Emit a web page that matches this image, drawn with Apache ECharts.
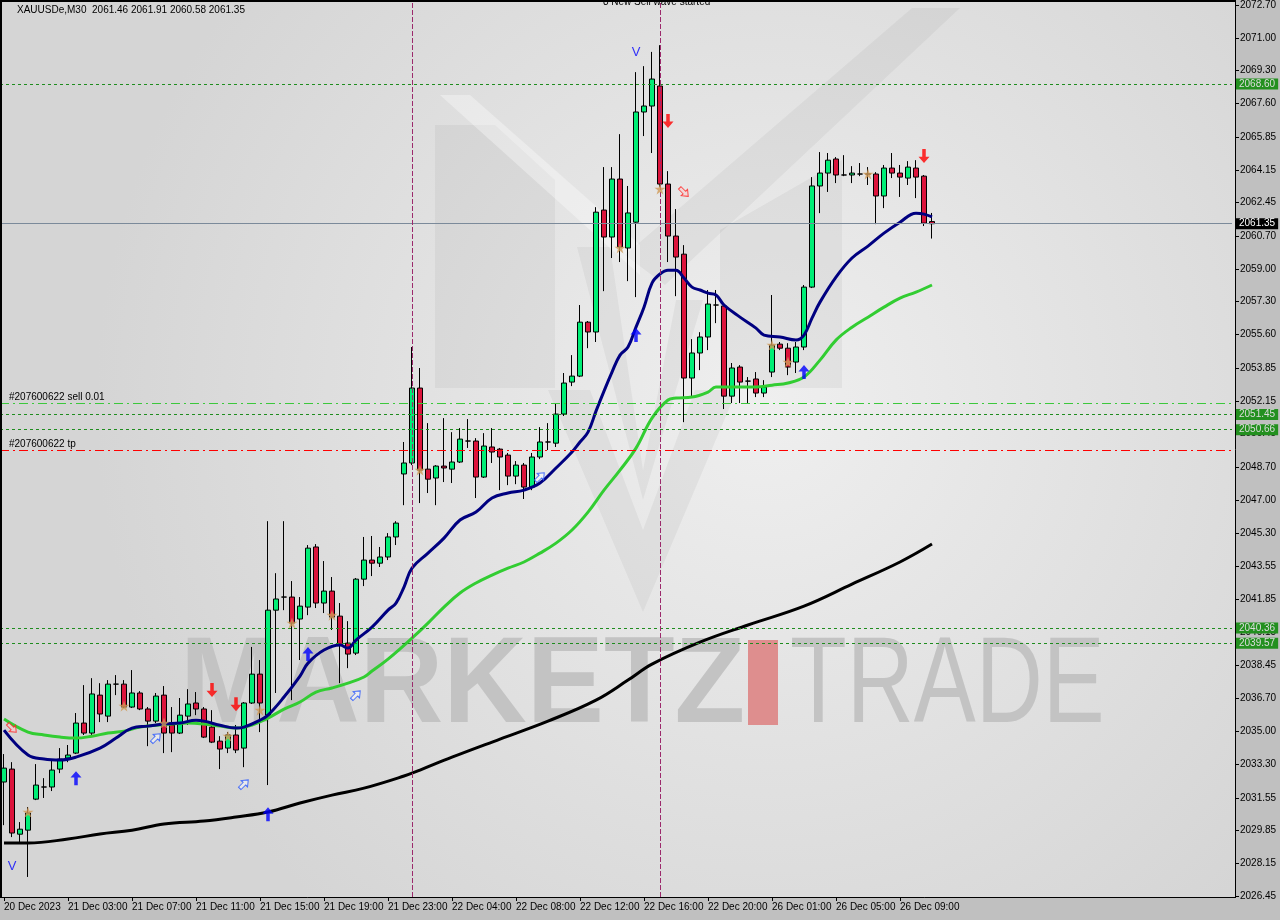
<!DOCTYPE html>
<html><head><meta charset="utf-8">
<script src="https://cdn.jsdelivr.net/npm/echarts@6/dist/echarts.min.js"></script>
<style>html,body{margin:0;padding:0;background:#c0c0c0;}#c{width:1280px;height:920px;}</style>
</head><body><div id="c"></div>
<script>
// ---------- data ----------
const tickLabels = ['20 Dec 2023','21 Dec 03:00','21 Dec 07:00','21 Dec 11:00','21 Dec 15:00','21 Dec 19:00','21 Dec 23:00','22 Dec 04:00','22 Dec 08:00','22 Dec 12:00','22 Dec 16:00','22 Dec 20:00','26 Dec 01:00','26 Dec 05:00','26 Dec 09:00'];
const yTicks = [2072.70,2071.00,2069.30,2067.60,2065.85,2064.15,2062.45,2060.70,2059.00,2057.30,2055.60,2053.85,2052.15,2050.45,2048.70,2047.00,2045.30,2043.55,2041.85,2040.15,2038.45,2036.70,2035.00,2033.30,2031.55,2029.85,2028.15,2026.45];

const opens = [2032.37,2033.04,2029.66,2029.87,2031.48,2032.11,2032.11,2033.04,2033.61,2033.87,
2035.43,2034.91,2036.88,2035.79,2037.45,2037.45,2036.26,2036.99,2036.16,2035.53,
2036.88,2035.33,2034.91,2035.79,2036.47,2036.16,2035.22,2034.49,2034.13,2034.81,
2034.13,2036.47,2037.97,2035.84,2041.29,2041.97,2041.97,2040.83,2041.45,2044.57,
2041.66,2042.28,2040.98,2039.58,2039.06,2042.90,2043.89,2043.73,2044.05,2045.09,
2048.36,2048.93,2052.82,2048.61,2048.15,2048.77,2048.61,2048.98,2050.07,2050.07,
2048.20,2049.76,2049.65,2049.34,2048.25,2048.82,2047.68,2049.24,2050.02,2049.96,
2051.47,2053.13,2053.44,2056.24,2055.73,2062.06,2060.66,2063.67,2060.09,2061.43,
2067.15,2067.46,2068.50,2063.41,2060.71,2059.77,2053.34,2054.64,2055.47,2057.13,
2057.08,2052.40,2053.91,2053.18,2053.29,2052.56,2053.65,2055.10,2054.89,2054.17,
2054.95,2058.06,2063.31,2063.98,2064.71,2063.88,2063.88,2063.93,2063.93,2063.93,
2062.79,2064.24,2063.98,2063.72,2064.24,2063.82,2061.46];
const closes = [2033.09,2029.72,2029.92,2030.76,2032.21,2032.11,2032.99,2033.56,2033.77,2035.43,
2034.91,2036.94,2035.90,2037.45,2037.45,2036.26,2036.99,2036.16,2035.53,2036.83,
2034.91,2034.91,2035.84,2036.42,2036.16,2034.70,2034.44,2034.08,2034.81,2034.03,
2036.47,2037.97,2036.47,2041.29,2041.87,2041.97,2040.62,2041.50,2044.51,2041.66,
2042.28,2040.93,2039.48,2039.01,2042.90,2043.89,2043.73,2044.05,2045.09,2045.81,
2048.93,2052.82,2048.56,2048.09,2048.77,2048.67,2048.98,2050.17,2050.07,2048.20,
2049.81,2049.50,2049.24,2048.25,2048.82,2047.68,2049.24,2050.02,2050.02,2051.47,
2053.08,2053.44,2056.24,2055.73,2061.95,2060.66,2063.67,2060.14,2061.91,2067.15,
2067.46,2068.86,2063.41,2060.71,2059.62,2053.34,2054.64,2055.47,2057.18,2057.13,
2052.40,2053.86,2053.13,2053.18,2052.56,2052.87,2055.05,2054.89,2053.91,2054.95,
2058.06,2063.31,2063.98,2064.65,2063.88,2063.88,2063.98,2063.93,2063.93,2062.79,
2064.24,2063.98,2063.77,2064.29,2063.77,2061.38,2061.35];
const lows = [2030.13,2029.51,2029.25,2027.44,2031.43,2031.54,2031.90,2032.83,2033.40,2033.82,
2034.81,2034.81,2035.48,2035.48,2036.88,2036.21,2036.21,2036.10,2034.23,2035.43,
2033.87,2033.92,2034.86,2035.33,2035.84,2034.65,2034.39,2033.04,2033.87,2033.87,
2033.14,2036.42,2034.96,2032.21,2036.99,2041.29,2036.62,2038.70,2041.03,2041.40,
2041.14,2040.26,2037.50,2038.28,2038.96,2042.54,2043.06,2043.53,2043.89,2044.67,
2046.74,2048.82,2046.85,2047.37,2046.74,2047.94,2047.89,2048.93,2049.71,2047.11,
2048.15,2048.93,2047.52,2047.78,2047.83,2047.06,2047.52,2049.13,2049.60,2049.76,
2051.37,2052.92,2053.39,2054.89,2055.21,2057.85,2059.57,2059.36,2058.37,2057.54,
2065.90,2065.02,2063.25,2059.36,2057.59,2051.05,2052.35,2053.75,2054.79,2056.19,
2051.73,2052.04,2052.04,2052.04,2052.35,2052.35,2053.39,2054.79,2053.49,2053.60,
2054.79,2058.01,2061.90,2063.00,2063.46,2063.82,2063.46,2063.82,2063.36,2061.33,
2062.16,2063.72,2062.74,2063.36,2062.68,2061.23,2060.58];
const highs = [2033.82,2033.40,2030.29,2031.07,2033.30,2032.57,2033.51,2034.13,2034.29,2035.95,
2037.40,2037.76,2037.50,2037.66,2037.92,2037.66,2038.18,2037.09,2036.26,2036.99,
2037.35,2036.26,2036.73,2037.19,2037.04,2036.26,2036.10,2034.75,2034.96,2035.33,
2036.52,2039.38,2038.70,2045.91,2043.21,2045.91,2042.80,2041.97,2044.67,2044.72,
2043.84,2043.01,2041.66,2040.72,2042.96,2045.09,2045.14,2044.57,2045.29,2045.91,
2050.02,2054.95,2053.86,2051.00,2048.82,2051.26,2050.53,2050.74,2051.21,2050.22,
2050.48,2050.74,2049.71,2049.45,2049.03,2048.93,2049.45,2050.79,2051.00,2052.04,
2053.60,2054.53,2057.13,2056.30,2062.21,2064.29,2064.29,2066.00,2063.31,2069.22,
2069.53,2070.27,2070.62,2064.08,2062.11,2060.24,2055.36,2055.72,2057.91,2057.91,
2057.18,2054.12,2054.01,2053.39,2053.65,2053.23,2057.65,2055.21,2055.15,2055.21,
2058.17,2063.77,2065.07,2065.02,2064.81,2064.91,2064.34,2064.50,2064.29,2064.03,
2064.40,2065.02,2064.40,2064.60,2064.65,2063.88,2061.91];

// moving averages (bar index, price)
const navyBars = [0,3,5,7,9,12,14,16,18,20,22,24,25,27,29,30,32,33,35,37,38,40,42,43,44,46,48,49,50,51,53,55,57,59,61,63,65,67,69,71,72,73,74,75,76,77,78,79,80,81,82,83,84,85,86,87,88,89,90,92,94,95,97,99,100,101,102,104,106,108,110,112,114,115,116];
const navyVals = [2035.06,2033.77,2033.56,2033.51,2033.66,2034.13,2034.65,2035.17,2035.27,2035.38,2035.43,2035.58,2035.53,2035.32,2035.17,2035.22,2035.58,2035.84,2036.78,2037.87,2038.54,2039.22,2039.48,2039.32,2039.74,2040.41,2041.29,2041.66,2042.49,2043.47,2044.25,2045.03,2045.97,2046.38,2047.11,2047.37,2047.52,2047.89,2048.67,2049.50,2050.02,2050.53,2051.62,2052.66,2053.65,2054.53,2054.95,2055.98,2057.02,2058.27,2058.74,2058.94,2058.94,2058.53,2058.06,2057.91,2057.75,2057.65,2057.13,2056.50,2055.93,2055.57,2055.47,2055.31,2055.57,2056.45,2057.28,2058.58,2059.57,2060.19,2060.86,2061.43,2061.90,2061.85,2061.70];
const greenBars = [0,3,5,7,9,11,13,15,17,19,21,23,25,27,29,31,33,35,37,39,41,43,45,46,48,51,53,55,57,59,61,63,65,67,69,71,73,75,77,79,81,83,84,86,88,89,92,94,96,98,100,102,104,106,108,110,112,114,116];
const greenVals = [2035.64,2034.96,2034.81,2034.70,2034.65,2034.75,2034.91,2035.01,2035.22,2035.32,2035.38,2035.43,2035.38,2035.27,2035.17,2035.32,2035.69,2036.15,2036.52,2037.04,2037.25,2037.50,2037.82,2038.13,2038.75,2039.84,2040.62,2041.45,2042.18,2042.70,2043.11,2043.47,2043.79,2044.25,2044.77,2045.45,2046.38,2047.52,2048.56,2049.70,2051.26,2052.20,2052.30,2052.35,2052.61,2052.87,2052.87,2052.87,2052.97,2053.08,2053.39,2054.27,2055.31,2055.98,2056.50,2057.02,2057.49,2057.80,2058.17];
const blackBars = [0,3,8,12,16,20,25,29,33,37,41,45,50,52,56,62,68,74,78,81,87,93,100,106,112,116];
const blackVals = [2029.20,2029.20,2029.41,2029.67,2029.87,2030.19,2030.34,2030.55,2030.81,2031.28,2031.69,2032.05,2032.68,2032.99,2033.66,2034.60,2035.53,2036.62,2037.66,2038.49,2039.63,2040.52,2041.50,2042.64,2043.79,2044.72];

// signal markers (bar index, price)
const blueUp = [[9,2032.57],[33,2030.70],[38,2039.01],[79,2055.57],[100,2053.65]];
const redDown = [[26,2037.14],[29,2036.41],[83,2066.68],[115,2064.86]];
const hollowBlue = [[19,2034.65],[30,2032.26],[44,2036.88],[67,2048.20]];
const hollowRed = [[1,2035.17],[85,2062.99]];
const stars = [[3,2030.81],[15,2036.31],[20,2035.43],[28,2034.75],[32,2036.10],[36,2040.62],[41,2041.03],[52,2048.56],[77,2060.09],[82,2063.15],[96,2055.05],[98,2054.17],[108,2063.93]];
const vMarks = [[1,2028.00],[79,2070.26]];

// horizontal levels
const boxLevels = [2068.60, 2051.45, 2050.66, 2040.36, 2039.57];
const bidLevel = 2061.35;
const sellLevel = 2052.04;
const tpLevel = 2049.60;
const vLineBars = [51, 82];

const headerText = 'XAUUSDe,M30  2061.46 2061.91 2060.58 2061.35';
const sellText = '#207600622 sell 0.01';
const tpText = '#207600622 tp';
const topNote = '8 New Sell wave started';

// ---------- chart ----------
const FONT = '"Liberation Sans", Arial, sans-serif';
const N = 154;
const cats = [];
for (let i = 0; i < N; i++) cats.push(i % 8 === 0 && i / 8 < tickLabels.length ? tickLabels[i / 8] : '');

const candles = opens.map((o, i) => {
  const v = [o, closes[i], lows[i], highs[i]];
  if (o === closes[i]) return { value: v, itemStyle: { color: '#000', color0: '#000', borderColor: '#000', borderColor0: '#000' } };
  return v;
});

const pairs = (b, v) => b.map((x, i) => [x, v[i]]);

const markData = [];
boxLevels.forEach(v => markData.push({
  yAxis: v,
  lineStyle: { color: '#1e8c1e', type: [3, 3], width: 1 },
  label: { show: true, position: 'end', distance: 4, formatter: () => v.toFixed(2), backgroundColor: '#23901f', color: '#dcdcdc', padding: [1, 3, 0, 3], fontSize: 10, fontFamily: FONT }
}));
markData.push({
  yAxis: bidLevel,
  lineStyle: { color: '#7b8a9a', type: 'solid', width: 1 },
  label: { show: true, position: 'end', distance: 4, formatter: () => bidLevel.toFixed(2), backgroundColor: '#000', color: '#fff', padding: [1, 3, 0, 3], fontSize: 10, fontFamily: FONT }
});
markData.push({ yAxis: sellLevel, lineStyle: { color: '#3cc83c', type: [9, 4, 2, 4], width: 1 }, label: { show: false } });
markData.push({ yAxis: tpLevel, lineStyle: { color: '#ff0000', type: [9, 4, 2, 4], width: 1 }, label: { show: false } });
vLineBars.forEach(b => markData.push({ xAxis: b, lineStyle: { color: '#9c2a6c', type: [5, 2], width: 1 }, label: { show: false } }));

const arrowPath = 'path://M5 0 L10 6 L6.6 6 L6.6 13 L3.4 13 L3.4 6 L0 6 Z';
const hollowPath = 'path://M5 0 L10 5 L7 5 L7 11 L3 11 L3 5 L0 5 Z';
const starPath = 'path://M5 0 L6.2 3.6 L10 3.6 L6.9 5.8 L8.1 9.5 L5 7.2 L1.9 9.5 L3.1 5.8 L0 3.6 L3.8 3.6 Z';

const bg = new echarts.graphic.RadialGradient(0.62, 0.45, 0.75, [
  { offset: 0, color: '#efefef' }, { offset: 1, color: '#d5d5d5' }
]);
const wm = 'rgba(0,0,0,0.045)';
const wmLight = 'rgba(255,255,255,0.35)';

const option = {
  animation: false,
  backgroundColor: '#c0c0c0',
  grid: { left: 0, right: 48, top: 2, bottom: 23, show: false },
  xAxis: {
    type: 'category', data: cats, boundaryGap: true,
    axisLine: { show: true, lineStyle: { color: '#000', width: 1 } },
    axisTick: { show: true, alignWithLabel: true, length: 4, interval: (i) => i % 8 === 0 && i <= 112, lineStyle: { color: '#000' } },
    axisLabel: { interval: (i) => i % 8 === 0 && i <= 112, align: 'left', color: '#000', fontSize: 10, fontFamily: FONT, margin: 5 },
    splitLine: { show: false }
  },
  yAxis: {
    type: 'value', position: 'right', offset: 3, min: 2026.40, max: 2072.86, scale: true,
    axisLine: { show: true, lineStyle: { color: '#000', width: 1 } },
    axisTick: { show: true, length: 4, customValues: yTicks, lineStyle: { color: '#000' } },
    axisLabel: { customValues: yTicks, formatter: (v) => v.toFixed(2), color: '#000', fontSize: 10, fontFamily: FONT, margin: 5 },
    splitLine: { show: false }
  },
  graphic: { elements: [
    { type: 'rect', z: -20, silent: true, shape: { x: 2, y: 2, width: 1233, height: 895 }, style: { fill: bg } },
    // faint logo shapes
    { type: 'polygon', z: -15, silent: true, shape: { points: [[435,125],[495,125],[555,180],[555,388],[435,388]] }, style: { fill: wm } },
    { type: 'polygon', z: -15, silent: true, shape: { points: [[720,230],[842,160],[842,388],[720,388]] }, style: { fill: wm } },
    { type: 'polygon', z: -15, silent: true, shape: { points: [[548,390],[590,390],[643,530],[695,390],[737,390],[643,612]] }, style: { fill: wm } },
    { type: 'polygon', z: -15, silent: true, shape: { points: [[577,247],[610,247],[643,470],[676,300],[703,300],[643,500]] }, style: { fill: wm } },
    { type: 'polygon', z: -15, silent: true, shape: { points: [[625,255],[665,285],[960,8],[912,8]] }, style: { fill: wm } },
    { type: 'polygon', z: -14, silent: true, shape: { points: [[440,95],[470,95],[640,245],[640,275]] }, style: { fill: wmLight } },
    { type: 'text', z: -12, silent: true, x: 180, y: 688, scaleX: 0.94, style: { text: 'MARKETZ', font: 'bold 123px ' + FONT, fill: '#c3c3c3', verticalAlign: 'middle' } },
    { type: 'rect', z: -12, silent: true, shape: { x: 748, y: 640, width: 30, height: 85 }, style: { fill: '#de8e8e' } },
    { type: 'text', z: -12, silent: true, x: 790, y: 688, scaleX: 0.755, style: { text: 'TRADE', font: '123px ' + FONT, fill: '#c3c3c3', verticalAlign: 'middle' } },
    { type: 'text', z: 100, silent: true, x: 17, y: 10, style: { text: headerText, font: '10px ' + FONT, fill: '#000', verticalAlign: 'middle' } },
    { type: 'text', z: 100, silent: true, x: 9, y: 397, style: { text: sellText, font: '10px ' + FONT, fill: '#000', verticalAlign: 'middle' } },
    { type: 'text', z: 100, silent: true, x: 9, y: 444, style: { text: tpText, font: '10px ' + FONT, fill: '#000', verticalAlign: 'middle' } },
    { type: 'text', z: 100, silent: true, x: 603, y: 7, style: { text: topNote, font: '10px ' + FONT, fill: '#000', verticalAlign: 'bottom' } },
    { type: 'line', z: 100, silent: true, shape: { x1: 0, y1: 1, x2: 1236, y2: 1 }, style: { stroke: '#000', lineWidth: 2 } },
    { type: 'line', z: 100, silent: true, shape: { x1: 1, y1: 0, x2: 1, y2: 898 }, style: { stroke: '#000', lineWidth: 2 } },
    { type: 'line', z: 100, silent: true, shape: { x1: 1230, y1: 897.5, x2: 1236, y2: 897.5 }, style: { stroke: '#000', lineWidth: 1 } }
  ] },
  series: [
    {
      type: 'candlestick', data: candles, barWidth: 5, z: 3,
      itemStyle: { color: '#00ee76', color0: '#dc143c', borderColor: '#000', borderColor0: '#000', borderWidth: 1 },
      emphasis: { disabled: true },
      markLine: { symbol: ['none', 'none'], silent: true, animation: false, precision: 2, data: markData }
    },
    { type: 'line', data: pairs(blackBars, blackVals), smooth: 0.4, showSymbol: false, silent: true, z: 4, lineStyle: { color: '#000', width: 3 } },
    { type: 'line', data: pairs(greenBars, greenVals), smooth: 0.4, showSymbol: false, silent: true, z: 4, lineStyle: { color: '#32cd32', width: 3 } },
    { type: 'line', data: pairs(navyBars, navyVals), smooth: 0.4, showSymbol: false, silent: true, z: 4, lineStyle: { color: '#000080', width: 3 } },
    { type: 'scatter', data: blueUp, symbol: arrowPath, symbolSize: [11, 14], silent: true, z: 6, itemStyle: { color: '#0000ff' } },
    { type: 'scatter', data: redDown, symbol: arrowPath, symbolSize: [11, 14], symbolRotate: 180, silent: true, z: 6, itemStyle: { color: '#ff0000' } },
    { type: 'scatter', data: hollowBlue, symbol: hollowPath, symbolSize: [9, 12], symbolRotate: -45, silent: true, z: 6, itemStyle: { color: 'rgba(255,255,255,0.6)', borderColor: '#2050ff', borderWidth: 1 } },
    { type: 'scatter', data: hollowRed, symbol: hollowPath, symbolSize: [9, 12], symbolRotate: -135, silent: true, z: 6, itemStyle: { color: 'rgba(255,200,200,0.6)', borderColor: '#ff2020', borderWidth: 1 } },
    { type: 'scatter', data: stars, symbol: starPath, symbolSize: 11, silent: true, z: 6, itemStyle: { color: '#d09a58' } },
    { type: 'scatter', data: vMarks, symbol: 'circle', symbolSize: 1, silent: true, z: 6, itemStyle: { color: 'rgba(0,0,0,0)' },
      label: { show: true, position: 'inside', formatter: 'V', color: '#0000ff', fontSize: 13, fontFamily: FONT } }
  ]
};

const chart = echarts.init(document.getElementById('c'), null, { renderer: 'canvas', width: 1280, height: 920 });
chart.setOption(option);
</script>
</body></html>
